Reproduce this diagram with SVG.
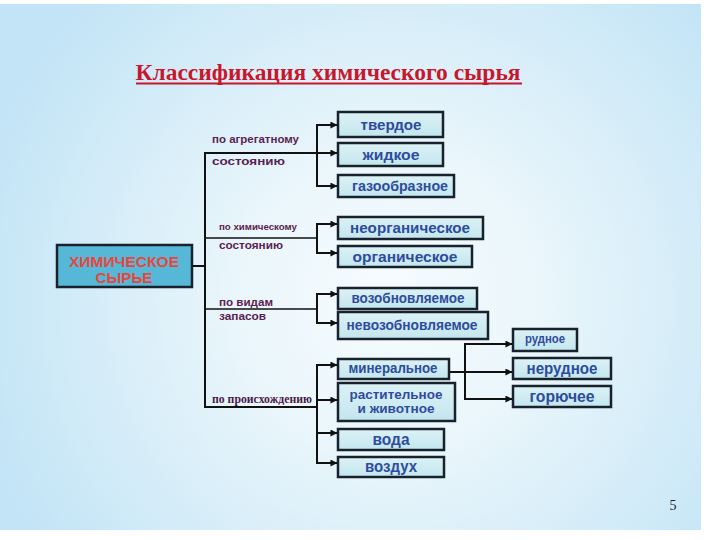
<svg xmlns="http://www.w3.org/2000/svg" width="720" height="540" viewBox="0 0 720 540">
<defs>
<radialGradient id="bg" cx="390" cy="300" r="430" gradientUnits="userSpaceOnUse">
<stop offset="0" stop-color="#f7fcfe"/>
<stop offset="0.35" stop-color="#eaf6fb"/>
<stop offset="1" stop-color="#c2e4f6"/>
</radialGradient>
<linearGradient id="boxfill" x1="0" y1="0" x2="0" y2="1">
<stop offset="0" stop-color="#dcf2f6"/>
<stop offset="1" stop-color="#c4e6ee"/>
</linearGradient>
<marker id="arr" viewBox="0 0 8 8" refX="7.5" refY="4" markerWidth="7" markerHeight="7" markerUnits="userSpaceOnUse" orient="auto">
<path d="M0,0 L8,4 L0,8 z" fill="#111"/>
</marker>
</defs>
<style>
.box{fill:url(#boxfill);stroke:#17222d;stroke-width:2.5}
.main{fill:#57b7d6;stroke:#17222d;stroke-width:2.5}
.bt{font-family:"Liberation Sans",Arial,sans-serif;font-weight:bold;fill:#2e4c9e;text-anchor:middle}
.mt{font-family:"Liberation Sans",Arial,sans-serif;font-weight:bold;fill:#e8463c;text-anchor:middle;font-size:14.7px}
.lb{font-family:"Liberation Sans",Arial,sans-serif;font-weight:bold;fill:#5a1f52}
.ln{fill:none;stroke:#111;stroke-width:2}
.thin{fill:none;stroke:#111;stroke-width:1.3}
.ar{fill:none;stroke:#111;stroke-width:2;marker-end:url(#arr)}
</style>
<rect x="0" y="0" width="720" height="540" fill="#ffffff"/>
<rect x="0" y="4" width="701" height="526" fill="url(#bg)"/>

<g id="title">
<text x="328" y="80" font-family="'Liberation Serif','Times New Roman',serif" font-weight="bold" font-size="24" fill="#c8172c" text-anchor="middle" textLength="385" lengthAdjust="spacingAndGlyphs">Классификация химического сырья</text>
<line x1="136" y1="83.5" x2="522" y2="83.5" stroke="#c8172c" stroke-width="2.2"/>
</g>

<g id="connectors">
<line class="ln" x1="192" y1="266" x2="205" y2="266"/>
<line class="ln" x1="205" y1="152" x2="205" y2="408"/>
<line class="ln" x1="204" y1="153" x2="318" y2="153" stroke-width="2.5"/>
<line class="thin" x1="205" y1="238" x2="318" y2="238"/>
<line class="thin" x1="205" y1="309" x2="318" y2="309"/>
<line class="ln" x1="204" y1="407" x2="318" y2="407" stroke-width="2.5"/>
<line class="ln" x1="317" y1="124" x2="317" y2="187"/>
<line class="ln" x1="317" y1="223" x2="317" y2="254"/>
<line class="ln" x1="317" y1="293" x2="317" y2="324"/>
<line class="ln" x1="317" y1="364" x2="317" y2="464"/>
<path class="ar" d="M316,125 H337"/>
<path class="ar" d="M317,153 H337"/>
<path class="ar" d="M316,186 H337"/>
<path class="ar" d="M316,224 H337"/>
<path class="ar" d="M316,253 H337"/>
<path class="ar" d="M316,294 H337"/>
<path class="ar" d="M316,323 H337"/>
<path class="ar" d="M316,365 H337"/>
<path class="ar" d="M317,400 H337"/>
<path class="ar" d="M316,433 H337"/>
<path class="ar" d="M316,463 H337"/>
<line class="ln" x1="465" y1="343" x2="465" y2="400"/>
<path class="ar" d="M449,372 H512"/>
<path class="ar" d="M464,344 H512"/>
<path class="ar" d="M464,399 H512"/>
</g>

<g id="labels">
<text class="lb" x="212" y="143" font-size="11" textLength="87" lengthAdjust="spacingAndGlyphs">по агрегатному</text>
<text class="lb" x="212" y="165" font-size="11" textLength="73" lengthAdjust="spacingAndGlyphs" fill="#3d1a3d">состоянию</text>
<text class="lb" x="219" y="230" font-size="9.5" textLength="78" lengthAdjust="spacingAndGlyphs">по химическому</text>
<text class="lb" x="219" y="249" font-size="10.5" textLength="64" lengthAdjust="spacingAndGlyphs">состоянию</text>
<text class="lb" x="219" y="306" font-size="11.5" textLength="54" lengthAdjust="spacingAndGlyphs">по видам</text>
<text class="lb" x="219" y="319.5" font-size="11.5" textLength="47" lengthAdjust="spacingAndGlyphs" fill="#3d1a3d">запасов</text>
<text x="212" y="403" font-family="'Liberation Serif','Times New Roman',serif" font-weight="bold" font-size="11.5" fill="#4a1a4a" textLength="100" lengthAdjust="spacingAndGlyphs">по происхождению</text>
</g>

<g id="node-main">
<rect class="main" x="57" y="245" width="135" height="42"/>
<text class="mt" x="124" y="266.5" textLength="110" lengthAdjust="spacingAndGlyphs">ХИМИЧЕСКОЕ</text>
<text class="mt" x="124" y="283.2" textLength="57" lengthAdjust="spacingAndGlyphs">СЫРЬЕ</text>
</g>

<g id="node-tverdoe">
<rect class="box" x="338" y="112" width="105" height="25"/>
<text class="bt" x="391" y="130" font-size="15.5" textLength="61" lengthAdjust="spacingAndGlyphs">твердое</text>
</g>
<g id="node-zhidkoe">
<rect class="box" x="338" y="143" width="105" height="23"/>
<text class="bt" x="391" y="160" font-size="15.5" textLength="57" lengthAdjust="spacingAndGlyphs">жидкое</text>
</g>
<g id="node-gazoobraznoe">
<rect class="box" x="338" y="175" width="116" height="22"/>
<text class="bt" x="400" y="191" font-size="14" textLength="96" lengthAdjust="spacingAndGlyphs">газообразное</text>
</g>
<g id="node-neorganicheskoe">
<rect class="box" x="338" y="217" width="145" height="22"/>
<text class="bt" x="410" y="233" font-size="15.5" textLength="120" lengthAdjust="spacingAndGlyphs">неорганическое</text>
</g>
<g id="node-organicheskoe">
<rect class="box" x="338" y="246" width="134" height="21"/>
<text class="bt" x="405" y="262" font-size="15.5" textLength="105" lengthAdjust="spacingAndGlyphs">органическое</text>
</g>
<g id="node-vozobnovlyaemoe">
<rect class="box" x="338" y="288" width="139" height="21"/>
<text class="bt" x="408" y="303" font-size="14" textLength="113" lengthAdjust="spacingAndGlyphs">возобновляемое</text>
</g>
<g id="node-nevozobnovlyaemoe">
<rect class="box" x="338" y="312" width="150" height="27"/>
<text class="bt" x="412" y="330" font-size="14" textLength="131" lengthAdjust="spacingAndGlyphs">невозобновляемое</text>
</g>
<g id="node-mineralnoe">
<rect class="box" x="338" y="359" width="111" height="20"/>
<text class="bt" x="393" y="373" font-size="14" textLength="89" lengthAdjust="spacingAndGlyphs">минеральное</text>
</g>
<g id="node-rastitelnoe">
<rect class="box" x="338" y="383" width="117" height="38"/>
<text class="bt" x="396" y="398.5" font-size="12.8" textLength="93" lengthAdjust="spacingAndGlyphs">растительное</text>
<text class="bt" x="396" y="413" font-size="12.8" textLength="77" lengthAdjust="spacingAndGlyphs">и животное</text>
</g>
<g id="node-voda">
<rect class="box" x="338" y="429" width="106" height="21"/>
<text class="bt" x="391" y="445" font-size="16" textLength="37" lengthAdjust="spacingAndGlyphs">вода</text>
</g>
<g id="node-vozdukh">
<rect class="box" x="338" y="457" width="106" height="20"/>
<text class="bt" x="391" y="472" font-size="16" textLength="52" lengthAdjust="spacingAndGlyphs">воздух</text>
</g>
<g id="node-rudnoe">
<rect class="box" x="513" y="329" width="64" height="22"/>
<text class="bt" x="545" y="343" font-size="12" textLength="40" lengthAdjust="spacingAndGlyphs">рудное</text>
</g>
<g id="node-nerudnoe">
<rect class="box" x="513" y="358" width="98" height="21"/>
<text class="bt" x="562" y="374" font-size="16" textLength="71" lengthAdjust="spacingAndGlyphs">нерудное</text>
</g>
<g id="node-goryuchee">
<rect class="box" x="513" y="386" width="98" height="21"/>
<text class="bt" x="562" y="402" font-size="16" textLength="65" lengthAdjust="spacingAndGlyphs">горючее</text>
</g>

<text x="673" y="510" font-family="'Liberation Serif','Times New Roman',serif" font-size="14" fill="#222" text-anchor="middle">5</text>
</svg>
